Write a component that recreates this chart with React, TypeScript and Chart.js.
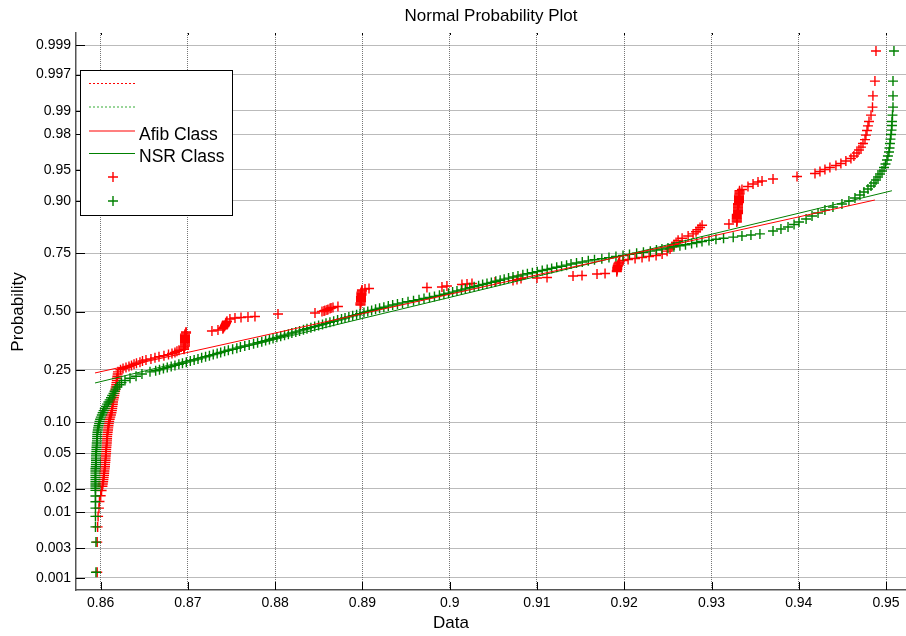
import { useEffect, useRef } from 'react';
import { Chart, registerables, Scale } from 'chart.js';

const TITLE = 'Normal Probability Plot';
const X_LABEL = 'Data';
const Y_LABEL = 'Probability';
const SERIES_NAMES = ['Afib Class', 'NSR Class'];

const X_MIN = 0.85717;
const X_MAX = 0.95229;
const X_TICKS = [0.86, 0.87, 0.88, 0.89, 0.9, 0.91, 0.92, 0.93, 0.94, 0.95];
const X_TICK_LABELS = ['0.86', '0.87', '0.88', '0.89', '0.9', '0.91', '0.92', '0.93', '0.94', '0.95'];

const P_MIN = 0.00062;
const P_MAX = 0.99938;
const P_TICKS = [0.001, 0.003, 0.01, 0.02, 0.05, 0.1, 0.25, 0.5, 0.75, 0.9, 0.95, 0.98, 0.99, 0.997, 0.999];
const P_TICK_LABELS = ['0.001', '0.003', '0.01', '0.02', '0.05', '0.10', '0.25', '0.50', '0.75', '0.90', '0.95', '0.98', '0.99', '0.997', '0.999'];

// [data value, probability]
const AFIB_POINTS: [number, number][] = [
  [0.8596, 0.00125], [0.8596, 0.00375], [0.85965, 0.00625], [0.8597, 0.00875], [0.8598, 0.0113], [0.85986, 0.0138], [0.86, 0.0163], [0.8601, 0.019], [0.8602, 0.0214],
  [0.86024, 0.02275], [0.86028, 0.02415], [0.86031, 0.02559], [0.86034, 0.02712], [0.86038, 0.02872], [0.8604, 0.0304], [0.86042, 0.03216], [0.86046, 0.034],
  [0.86049, 0.03593], [0.8605, 0.03795], [0.86053, 0.04006], [0.86055, 0.04227], [0.86056, 0.04457], [0.86058, 0.04697], [0.86061, 0.04947], [0.86062, 0.05208],
  [0.86063, 0.0548], [0.86065, 0.05763], [0.86068, 0.06057], [0.8607, 0.06364], [0.86072, 0.06681], [0.86073, 0.07011], [0.86074, 0.07353], [0.86077, 0.07708],
  [0.8608, 0.08076], [0.86084, 0.08457], [0.86086, 0.08851], [0.86089, 0.09259], [0.86093, 0.0968], [0.86097, 0.10116], [0.86103, 0.10565], [0.8611, 0.1103],
  [0.86117, 0.11507], [0.86123, 0.12001], [0.86128, 0.12507], [0.86132, 0.13031], [0.86135, 0.13567], [0.86139, 0.1412], [0.86141, 0.14686], [0.86146, 0.1527],
  [0.86151, 0.15866], [0.86156, 0.1648], [0.8616, 0.17106], [0.86165, 0.1775], [0.86168, 0.18406], [0.86173, 0.1908], [0.86178, 0.19766], [0.86181, 0.2047],
  [0.86185, 0.21186], [0.86187, 0.2192], [0.86191, 0.22663], [0.86195, 0.2343], [0.86198, 0.24196],
  [0.86227, 0.2499], [0.86256, 0.2539], [0.8629, 0.25785], [0.86324, 0.2619], [0.86353, 0.26605], [0.86382, 0.2702], [0.8641, 0.27425], [0.8645, 0.2785],
  [0.86479, 0.2827], [0.86519, 0.2869], [0.86576, 0.29116], [0.86622, 0.2955], [0.86668, 0.29985], [0.86725, 0.3042], [0.86777, 0.30854], [0.86817, 0.313],
  [0.86851, 0.31745], [0.86874, 0.3219], [0.86897, 0.32636],
  [0.86955, 0.3309], [0.86955, 0.33545], [0.86955, 0.34], [0.86966, 0.34458], [0.86966, 0.3492], [0.86966, 0.35387], [0.86966, 0.3585], [0.86966, 0.36317],
  [0.86966, 0.3679], [0.86966, 0.37263], [0.86966, 0.3774], [0.86966, 0.38209], [0.86966, 0.3869], [0.86966, 0.39169], [0.86966, 0.3965], [0.86978, 0.40129], [0.86978, 0.4061],
  [0.87275, 0.4105], [0.87344, 0.4153], [0.874, 0.42074], [0.87407, 0.4256], [0.87418, 0.43053], [0.87424, 0.4355], [0.8743, 0.44038], [0.87436, 0.4453],
  [0.87441, 0.45026], [0.87447, 0.4552], [0.87481, 0.4653], [0.87539, 0.47], [0.87608, 0.472], [0.87688, 0.4746], [0.87768, 0.477], [0.88032, 0.4884], [0.88456, 0.493],
  [0.88536, 0.5], [0.88559, 0.5023], [0.8857, 0.5046], [0.88593, 0.507], [0.88605, 0.5092], [0.88628, 0.514], [0.8864, 0.516], [0.88662, 0.5185], [0.88719, 0.523],
  [0.88977, 0.5299], [0.88977, 0.5349], [0.88977, 0.53983], [0.88983, 0.5448], [0.88983, 0.54974], [0.88983, 0.5547], [0.88983, 0.55962], [0.88983, 0.5645],
  [0.88983, 0.56946], [0.88988, 0.5744], [0.88988, 0.57926], [0.88988, 0.5841], [0.88988, 0.58899], [0.88994, 0.5939], [0.88994, 0.59871], [0.89029, 0.603], [0.89075, 0.605],
  [0.89739, 0.6096], [0.89911, 0.6118], [0.89968, 0.6163], [0.9014, 0.623], [0.90198, 0.625], [0.90255, 0.6273], [0.90519, 0.634], [0.90725, 0.64], [0.90771, 0.6447],
  [0.90817, 0.649], [0.91, 0.651], [0.91115, 0.653], [0.91413, 0.66], [0.91516, 0.6617], [0.91688, 0.668], [0.9178, 0.6703],
  [0.91915, 0.6781], [0.91915, 0.68256], [0.9192, 0.687], [0.9192, 0.69146], [0.9192, 0.6959], [0.91926, 0.70015], [0.91926, 0.7044], [0.91932, 0.70884],
  [0.91937, 0.7131], [0.91947, 0.7173],
  [0.91987, 0.7228], [0.92044, 0.7267], [0.92124, 0.7307], [0.92204, 0.7344], [0.92285, 0.7382], [0.92365, 0.742], [0.92434, 0.7476], [0.92491, 0.75804],
  [0.92525, 0.7658], [0.92548, 0.77337], [0.92571, 0.7808], [0.92594, 0.78814], [0.92617, 0.7953], [0.92663, 0.80234], [0.92732, 0.8092], [0.92789, 0.81594],
  [0.92823, 0.8225], [0.92846, 0.82894], [0.92869, 0.8352], [0.92892, 0.84134], [0.932, 0.8448],
  [0.9329, 0.85019], [0.9329, 0.85314], [0.9329, 0.85594], [0.9329, 0.85874], [0.9329, 0.86153], [0.9329, 0.86433], [0.9329, 0.86698], [0.9329, 0.86963],
  [0.93304, 0.87228], [0.93304, 0.87493], [0.93304, 0.87743], [0.93304, 0.87993], [0.93304, 0.88243], [0.93304, 0.88493], [0.93304, 0.88729], [0.93304, 0.88964],
  [0.93304, 0.892], [0.93304, 0.89435], [0.93315, 0.89656], [0.93315, 0.89878], [0.93315, 0.90099], [0.93315, 0.9032], [0.93315, 0.90527], [0.93315, 0.90735],
  [0.93315, 0.90942], [0.93315, 0.91149], [0.93321, 0.91343], [0.93321, 0.91537], [0.93321, 0.9173], [0.93321, 0.91924],
  [0.93349, 0.9214], [0.93418, 0.9263], [0.93476, 0.9303], [0.93533, 0.9334], [0.93579, 0.9349], [0.93705, 0.9378], [0.9398, 0.9412], [0.94186, 0.9452],
  [0.94243, 0.9477], [0.943, 0.9501], [0.94357, 0.9525], [0.94426, 0.9548], [0.94483, 0.957], [0.9454, 0.9595], [0.94598, 0.962], [0.94632, 0.9643],
  [0.94667, 0.967], [0.9469, 0.9694], [0.94713, 0.9717], [0.94736, 0.9743], [0.94759, 0.9769], [0.9477, 0.9796], [0.94782, 0.9821], [0.94793, 0.9843],
  [0.94805, 0.9862], [0.94828, 0.9886], [0.94845, 0.9911], [0.9485, 0.9938], [0.94873, 0.99623], [0.94885, 0.99874],
];

const NSR_POINTS: [number, number][] = [
  [0.85946, 0.00125], [0.85946, 0.00375], [0.8594, 0.00625], [0.8594, 0.00875], [0.8594, 0.0113], [0.8594, 0.0137], [0.8594, 0.0162],
  [0.8594, 0.01902], [0.8594, 0.02018], [0.8594, 0.02147], [0.8594, 0.02275], [0.8594, 0.02417], [0.8594, 0.02559], [0.8594, 0.02716], [0.8594, 0.02872],
  [0.8594, 0.03044], [0.8594, 0.03216], [0.8594, 0.03405], [0.85943, 0.03593], [0.85945, 0.038], [0.85946, 0.04006], [0.85946, 0.04232], [0.85946, 0.04457],
  [0.85946, 0.04702], [0.85948, 0.04947], [0.8595, 0.05214], [0.85951, 0.0548], [0.85952, 0.05769], [0.85954, 0.06057], [0.85955, 0.06369], [0.85958, 0.06681],
  [0.85959, 0.07017], [0.8596, 0.07353], [0.85961, 0.07715], [0.85963, 0.08076], [0.85967, 0.08464], [0.8597, 0.08851], [0.85976, 0.09266], [0.85982, 0.0968],
  [0.85987, 0.10123], [0.85994, 0.10565], [0.86002, 0.11036], [0.86013, 0.11507], [0.86023, 0.12007], [0.86034, 0.12507], [0.86047, 0.13037], [0.86061, 0.13567],
  [0.86074, 0.14127], [0.86089, 0.14686], [0.86103, 0.15276], [0.86118, 0.15866], [0.86132, 0.16486], [0.86147, 0.17106], [0.86159, 0.17756], [0.86173, 0.18406],
  [0.8619, 0.19086], [0.86212, 0.19766], [0.86238, 0.20476], [0.86278, 0.21186], [0.86336, 0.21925], [0.86405, 0.22663], [0.86473, 0.2343], [0.86565, 0.24196],
  [0.8663, 0.24593], [0.86674, 0.24991], [0.86719, 0.25388], [0.86763, 0.25785], [0.86808, 0.26195], [0.86851, 0.26605], [0.86896, 0.27015], [0.86937, 0.27425],
  [0.86981, 0.27848], [0.87027, 0.28271], [0.87071, 0.28693], [0.87115, 0.29116], [0.87157, 0.29551], [0.87202, 0.29985], [0.87246, 0.3042], [0.8729, 0.30854],
  [0.87335, 0.313], [0.87375, 0.31745], [0.8742, 0.3219], [0.87463, 0.32636], [0.87512, 0.33092], [0.8756, 0.33547], [0.87601, 0.34003], [0.87651, 0.34458],
  [0.87702, 0.34923], [0.87752, 0.35388], [0.87798, 0.35852], [0.87846, 0.36317], [0.8789, 0.3679], [0.87934, 0.37263], [0.87975, 0.37736], [0.88019, 0.38209],
  [0.88063, 0.38689], [0.88107, 0.39169], [0.88151, 0.39649], [0.88191, 0.40129], [0.88236, 0.40615], [0.88279, 0.41102], [0.88324, 0.41588], [0.88364, 0.42074],
  [0.88409, 0.42565], [0.88452, 0.43056], [0.88497, 0.43547], [0.88542, 0.44038], [0.88582, 0.44533], [0.88627, 0.45028], [0.8867, 0.45522], [0.88715, 0.46017],
  [0.8876, 0.46514], [0.888, 0.47012], [0.88844, 0.47509], [0.88888, 0.48006], [0.88933, 0.48505], [0.88972, 0.49003], [0.89017, 0.49502], [0.89061, 0.5],
  [0.89105, 0.50499], [0.8915, 0.50997], [0.89196, 0.51495], [0.89245, 0.51994], [0.89296, 0.52491], [0.89346, 0.52989], [0.89401, 0.53486], [0.89459, 0.53983],
  [0.89522, 0.54478], [0.89585, 0.54973], [0.89648, 0.55467], [0.89705, 0.55962], [0.89768, 0.56453], [0.89825, 0.56944], [0.89882, 0.57435], [0.89933, 0.57926],
  [0.89987, 0.58412], [0.90033, 0.58899], [0.90083, 0.59385], [0.90134, 0.59871], [0.90179, 0.60351], [0.9023, 0.60831], [0.9028, 0.61311], [0.90331, 0.61791],
  [0.90377, 0.62264], [0.90427, 0.62737], [0.90477, 0.6321], [0.90528, 0.63683], [0.90578, 0.64148], [0.90624, 0.64613], [0.90674, 0.65077], [0.90725, 0.65542],
  [0.90782, 0.66], [0.90838, 0.66453], [0.9089, 0.66909], [0.90947, 0.67364], [0.91003, 0.6781], [0.9106, 0.68255], [0.91117, 0.68701], [0.91168, 0.69146],
  [0.91226, 0.69581], [0.91282, 0.70015], [0.91339, 0.7045], [0.9139, 0.70884], [0.91453, 0.71307], [0.91519, 0.7173], [0.91588, 0.72152], [0.91659, 0.72575],
  [0.91743, 0.7298], [0.91825, 0.73395], [0.91905, 0.73805], [0.91986, 0.74215], [0.9206, 0.74612], [0.92142, 0.7501], [0.9222, 0.75407], [0.92299, 0.75804],
  [0.92369, 0.76187], [0.92432, 0.7657], [0.92501, 0.76954], [0.92569, 0.77337], [0.92638, 0.77706], [0.92702, 0.78075], [0.92772, 0.78445], [0.92831, 0.78814],
  [0.92891, 0.79169], [0.92971, 0.79524], [0.93051, 0.79879], [0.93138, 0.80234], [0.93249, 0.80574], [0.93349, 0.80914], [0.93452, 0.81254], [0.93555, 0.81594],
  [0.93705, 0.8246], [0.93796, 0.8307], [0.93877, 0.8365], [0.93946, 0.8435], [0.94003, 0.8504], [0.94084, 0.8582], [0.94152, 0.8659], [0.94221, 0.8733],
  [0.943, 0.8804], [0.94392, 0.8872], [0.94495, 0.8936], [0.94575, 0.9], [0.94644, 0.9059], [0.94701, 0.9116], [0.94747, 0.9171], [0.94793, 0.9222],
  [0.94828, 0.9272], [0.94862, 0.9319], [0.94885, 0.9364], [0.94908, 0.9405], [0.94931, 0.9445], [0.94954, 0.9483], [0.94977, 0.9525], [0.94994, 0.9564],
  [0.95011, 0.9605], [0.95022, 0.9643], [0.95034, 0.9678], [0.9504, 0.971], [0.95045, 0.9743], [0.95051, 0.9772], [0.95057, 0.9799], [0.95063, 0.9823],
  [0.95068, 0.9845], [0.95068, 0.9862], [0.95074, 0.9886], [0.9508, 0.9911], [0.9508, 0.9938], [0.9508, 0.99623], [0.95091, 0.99874],
];

// reference (fit) lines: [data value, probability] end points
const AFIB_FIT: [number, number][] = [[0.85935, 0.238], [0.94873, 0.902]];
const NSR_FIT: [number, number][] = [[0.85935, 0.2036], [0.95068, 0.9193]];

const RED = 'rgb(255,0,0)';
const GREEN = 'rgb(0,128,0)';
const FONT = '"Liberation Sans", Arial, Helvetica, sans-serif';

function probit(p: number): number {
  const a = [-3.969683028665376e1, 2.209460984245205e2, -2.759285104469687e2, 1.38357751867269e2, -3.066479806614716e1, 2.506628277459239];
  const b = [-5.447609879822406e1, 1.615858368580409e2, -1.556989798598866e2, 6.680131188771972e1, -1.328068155288572e1];
  const c = [-7.784894002430293e-3, -3.223964580411365e-1, -2.400758277161838, -2.549732539343734, 4.374664141464968, 2.938163982698783];
  const d = [7.784695709041462e-3, 3.224671290700398e-1, 2.445134137142996, 3.754408661907416];
  if (p <= 0) return -10;
  if (p >= 1) return 10;
  const pl = 0.02425;
  if (p < pl) {
    const q = Math.sqrt(-2 * Math.log(p));
    return (((((c[0] * q + c[1]) * q + c[2]) * q + c[3]) * q + c[4]) * q + c[5]) / ((((d[0] * q + d[1]) * q + d[2]) * q + d[3]) * q + 1);
  }
  if (p <= 1 - pl) {
    const q = p - 0.5;
    const r = q * q;
    return ((((((a[0] * r + a[1]) * r + a[2]) * r + a[3]) * r + a[4]) * r + a[5]) * q) / (((((b[0] * r + b[1]) * r + b[2]) * r + b[3]) * r + b[4]) * r + 1);
  }
  const q = Math.sqrt(-2 * Math.log(1 - p));
  return -(((((c[0] * q + c[1]) * q + c[2]) * q + c[3]) * q + c[4]) * q + c[5]) / ((((d[0] * q + d[1]) * q + d[2]) * q + d[3]) * q + 1);
}

function normCdf(z: number): number {
  const t = 1 / (1 + 0.2316419 * Math.abs(z));
  const dd = 0.3989423 * Math.exp((-z * z) / 2);
  const pr = dd * t * (0.3193815 + t * (-0.3565638 + t * (1.781478 + t * (-1.821256 + t * 1.330274))));
  return z > 0 ? 1 - pr : pr;
}

class ProbitScale extends (Scale as any) {
  static id = 'probit';
  static defaults = {};
  determineDataLimits() {
    this.min = probit(this.options.min);
    this.max = probit(this.options.max);
  }
  buildTicks() {
    return P_TICKS.map((v) => ({ value: v }));
  }
  getLabelForValue(value: number) {
    return String(value);
  }
  getPixelForValue(value: number) {
    return this.getPixelForDecimal((probit(value) - this.min) / (this.max - this.min));
  }
  getValueForPixel(pixel: number) {
    return normCdf(this.min + this.getDecimalForPixel(pixel) * (this.max - this.min));
  }
}

Chart.register(...registerables, ProbitScale as any);

const toXY = (arr: [number, number][]) => arr.map(([x, p]) => ({ x, y: p }));

function drawPlus(ctx: CanvasRenderingContext2D, x: number, y: number, r: number, color: string) {
  ctx.strokeStyle = color;
  ctx.lineWidth = 1.4;
  ctx.setLineDash([]);
  ctx.beginPath();
  ctx.moveTo(x - r, y);
  ctx.lineTo(x + r, y);
  ctx.moveTo(x, y - r);
  ctx.lineTo(x, y + r);
  ctx.stroke();
}

const decorPlugin = {
  id: 'decor',
  afterDraw(chart: any) {
    const ctx: CanvasRenderingContext2D = chart.ctx;
    const { left, right, top, bottom } = chart.chartArea;
    const xs = chart.scales.x;
    const ys = chart.scales.y;
    ctx.save();
    ctx.strokeStyle = '#000';
    ctx.lineWidth = 1;
    ctx.setLineDash([]);
    P_TICKS.forEach((p) => {
      const y = Math.round(ys.getPixelForValue(p)) + 0.5;
      ctx.beginPath();
      ctx.moveTo(left, y);
      ctx.lineTo(left + 9, y);
      ctx.stroke();
    });
    X_TICKS.forEach((v) => {
      const x = Math.round(xs.getPixelForValue(v)) + 0.5;
      ctx.beginPath();
      ctx.moveTo(x, bottom);
      ctx.lineTo(x, bottom - 8);
      ctx.moveTo(x, top);
      ctx.lineTo(x, top + 2);
      ctx.stroke();
    });

    // title and axis titles
    ctx.fillStyle = '#000';
    ctx.textAlign = 'center';
    ctx.textBaseline = 'middle';
    ctx.font = `17px ${FONT}`;
    ctx.fillText(TITLE, (left + right) / 2, 16);
    ctx.fillText(X_LABEL, 451, 623);
    ctx.save();
    ctx.translate(18, 312);
    ctx.rotate(-Math.PI / 2);
    ctx.fillText(Y_LABEL, 0, 0);
    ctx.restore();

    // legend
    const bx = 80.5, by = 70.5, bw = 152, bh = 145;
    ctx.fillStyle = '#fff';
    ctx.fillRect(bx, by, bw, bh);
    ctx.strokeStyle = '#000';
    ctx.lineWidth = 1;
    ctx.strokeRect(bx, by, bw, bh);
    const lx0 = 89, lx1 = 135;
    const rows = [83.5, 107, 131, 153.5, 177, 201];
    ctx.lineWidth = 1;
    ctx.setLineDash([2, 2]);
    ctx.strokeStyle = RED;
    ctx.beginPath(); ctx.moveTo(lx0, rows[0]); ctx.lineTo(lx1, rows[0]); ctx.stroke();
    ctx.strokeStyle = 'rgba(0,150,0,0.8)';
    ctx.beginPath(); ctx.moveTo(lx0, rows[1]); ctx.lineTo(lx1, rows[1]); ctx.stroke();
    ctx.setLineDash([]);
    ctx.lineWidth = 1.2;
    ctx.strokeStyle = RED;
    ctx.beginPath(); ctx.moveTo(lx0, rows[2]); ctx.lineTo(lx1, rows[2]); ctx.stroke();
    ctx.strokeStyle = GREEN;
    ctx.beginPath(); ctx.moveTo(lx0, rows[3]); ctx.lineTo(lx1, rows[3]); ctx.stroke();
    ctx.fillStyle = '#000';
    ctx.textAlign = 'left';
    ctx.textBaseline = 'alphabetic';
    ctx.font = `17.5px ${FONT}`;
    ctx.fillText(SERIES_NAMES[0], 139, 139.5);
    ctx.fillText(SERIES_NAMES[1], 139, 161.5);
    drawPlus(ctx, 113, rows[4], 5, RED);
    drawPlus(ctx, 113, rows[5], 5, GREEN);
    ctx.restore();
  },
};

export default function App() {
  const ref = useRef<HTMLCanvasElement | null>(null);
  useEffect(() => {
    if (!ref.current) return;
    const gridColor = 'rgba(60,60,60,0.7)';
    const chart = new Chart(ref.current, {
      type: 'scatter',
      data: {
        datasets: [
          { label: SERIES_NAMES[0] + ' fit', data: toXY(AFIB_FIT), showLine: true, borderColor: RED, borderWidth: 1, pointRadius: 0, fill: false, order: 0 } as any,
          { label: SERIES_NAMES[1] + ' fit', data: toXY(NSR_FIT), showLine: true, borderColor: GREEN, borderWidth: 1, pointRadius: 0, fill: false, order: 0 } as any,
          { label: SERIES_NAMES[1], data: toXY(NSR_POINTS), pointStyle: 'cross', pointRadius: 5, borderColor: GREEN, backgroundColor: GREEN, borderWidth: 1.4, order: 1 } as any,
          { label: SERIES_NAMES[0], data: toXY(AFIB_POINTS), pointStyle: 'cross', pointRadius: 5, borderColor: RED, backgroundColor: RED, borderWidth: 1.4, order: 2 } as any,
        ],
      },
      options: {
        responsive: false,
        animation: false,
        devicePixelRatio: 1,
        events: [],
        layout: { autoPadding: false, padding: { top: 33, left: 0, right: 0, bottom: 0 } },
        plugins: { legend: { display: false }, tooltip: { enabled: false }, title: { display: false } },
        scales: {
          x: {
            type: 'linear',
            min: X_MIN,
            max: X_MAX,
            bounds: 'data',
            afterFit: (s: any) => { s.height = 46; s.paddingLeft = 0; s.paddingRight = 0; },
            afterBuildTicks: (s: any) => { s.ticks = X_TICKS.map((v) => ({ value: v })); },
            ticks: { autoSkip: false, maxRotation: 0, padding: 5, color: '#000', font: { family: FONT, size: 14 }, callback: (_v: any, i: number) => X_TICK_LABELS[i] },
            grid: { color: gridColor, lineWidth: 1, drawTicks: false },
            border: { display: true, color: '#555', width: 1.5, dash: [1, 1] },
          },
          y: {
            type: 'probit' as any,
            min: P_MIN,
            max: P_MAX,
            afterFit: (s: any) => { s.width = 76; s.paddingTop = 0; s.paddingBottom = 0; },
            ticks: { autoSkip: false, padding: 5, color: '#000', font: { family: FONT, size: 14 }, callback: (_v: any, i: number) => P_TICK_LABELS[i] },
            grid: { color: gridColor, lineWidth: 1, drawTicks: false },
            border: { display: true, color: '#555', width: 1.5, dash: [1, 1] },
          } as any,
        },
      } as any,
      plugins: [decorPlugin],
    });
    return () => chart.destroy();
  }, []);
  return (
    <div style={{ position: 'absolute', left: 0, top: 0, width: 906, height: 636, background: '#fff' }}>
      <canvas ref={ref} width={906} height={636} style={{ display: 'block' }} />
    </div>
  );
}
